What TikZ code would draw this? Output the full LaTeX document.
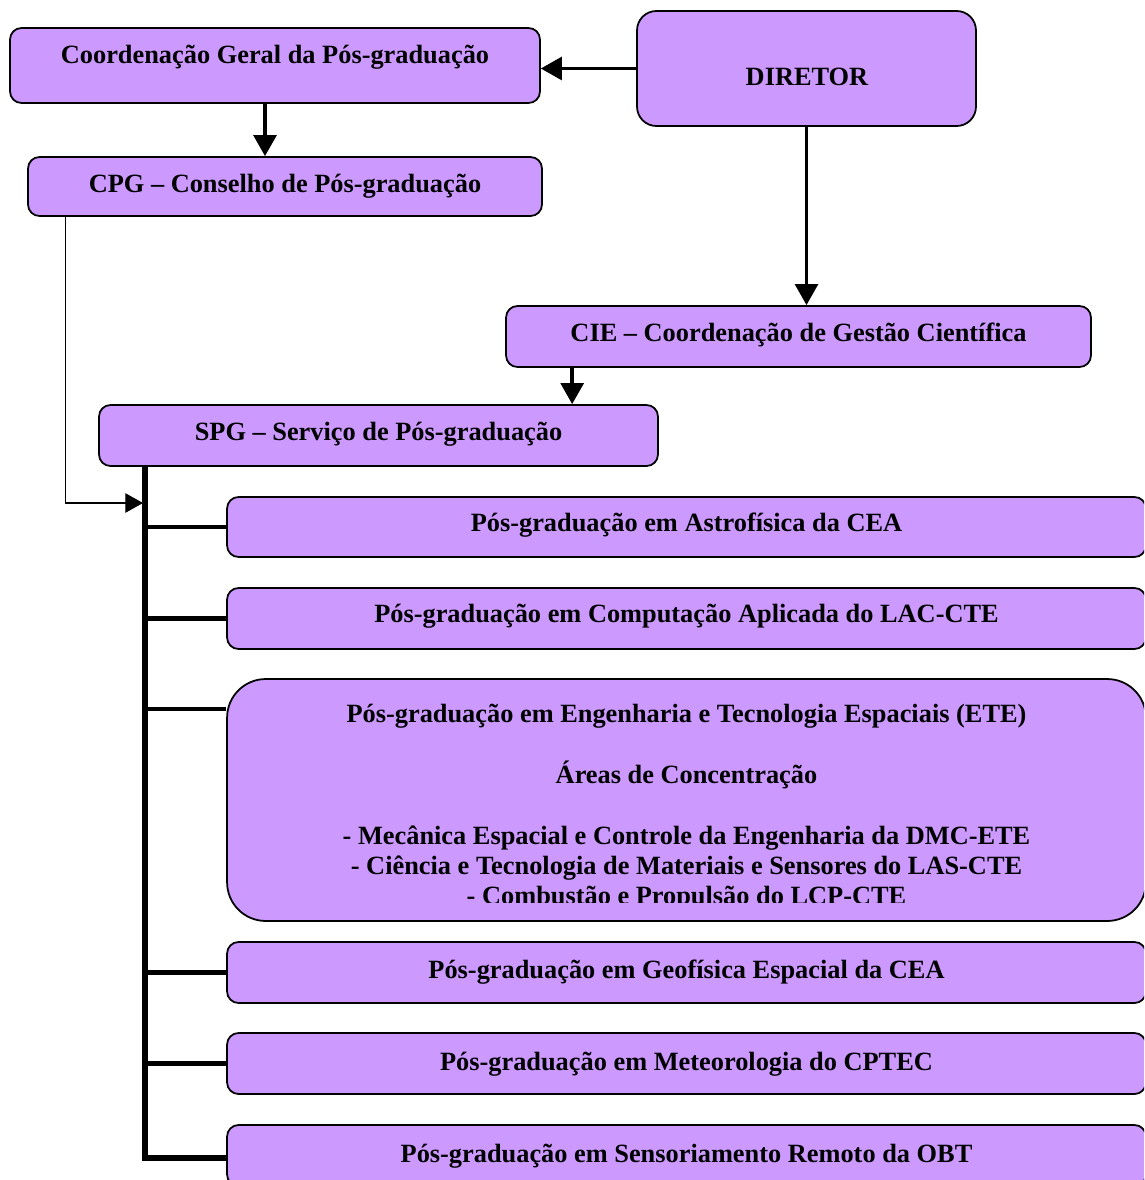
\documentclass[tikz,border=0pt]{standalone}
\usepackage{fontspec}
\setmainfont{Liberation Serif}
\usetikzlibrary{arrows.meta}
\definecolor{lilac}{HTML}{CC99FF}

\tikzset{
  box/.style={draw=black,line width=1pt,fill=lilac,rounded corners=6.5pt,inner sep=0pt},
  lbl/.style={font=\fontsize{15}{17}\selectfont\bfseries,anchor=base,inner sep=0pt},
  conn/.style={line width=2pt,-{Triangle[length=12pt,width=13pt]}},
  feed/.style={line width=0.6pt,-{Triangle[length=10pt,width=11pt]}},
  bus/.style={line width=3.4pt},
  branch/.style={line width=2.3pt}
}

\begin{document}
\begin{tikzpicture}[x=0.02cm,y=-0.02cm]
\clip (0,0) rectangle (1144,1180);
% boxes
\node[box,minimum width=10.6cm,minimum height=1.5cm] (cgp) at (275,65.5) {};
\node[box,rounded corners=11pt,minimum width=6.78cm,minimum height=2.3cm] (dir) at (806.5,68.5) {};
\node[box,minimum width=10.28cm,minimum height=1.18cm] (cpg) at (285,186.5) {};
\node[box,minimum width=11.7cm,minimum height=1.22cm] (cie) at (798.5,336.5) {};
\node[box,minimum width=11.18cm,minimum height=1.22cm] (spg) at (378.5,435.5) {};
\node[box,minimum width=18.38cm,minimum height=1.2cm] (astro) at (686.5,527) {};
\node[box,minimum width=18.38cm,minimum height=1.22cm] (comp) at (686.5,618.5) {};
\node[box,rounded corners=22pt,minimum width=18.38cm,minimum height=4.84cm] (ete) at (686.5,800) {};
\node[box,minimum width=18.38cm,minimum height=1.22cm] (geo) at (686.5,972.5) {};
\node[box,minimum width=18.38cm,minimum height=1.22cm] (meteo) at (686.5,1063.5) {};
\node[box,minimum width=18.38cm,minimum height=1.22cm] (remoto) at (686.5,1155.5) {};
% texts
\node[lbl] (cgpT) at (275,63) {Coordenação Geral da Pós-graduação};
\node[lbl] (dirT) at (807,85) {DIRETOR};
\node[lbl] (cpgT) at (285,192) {CPG – Conselho de Pós-graduação};
\node[lbl] (cieT) at (798.5,341) {CIE – Coordenação de Gestão Científica};
\node[lbl] (spgT) at (378.5,440) {SPG – Serviço de Pós-graduação};
\node[lbl] (astroT) at (686.5,531) {Pós-graduação em Astrofísica da CEA};
\node[lbl] (compT) at (686.5,622) {Pós-graduação em Computação Aplicada do LAC-CTE};
\begin{scope}
\clip (220,679) rectangle (1150,902);
\node[lbl] (eteA) at (686.5,722) {Pós-graduação em Engenharia e Tecnologia Espaciais (ETE)};
\node[lbl] (eteB) at (686.5,783) {Áreas de Concentração};
\node[lbl] (eteC) at (686.5,844) {- Mecânica Espacial e Controle da Engenharia da DMC-ETE};
\node[lbl] (eteD) at (686.5,874) {- Ciência e Tecnologia de Materiais e Sensores do LAS-CTE};
\node[lbl] (eteE) at (686.5,904) {- Combustão e Propulsão do LCP-CTE};
\end{scope}
\node[lbl] (geoT) at (686.5,978) {Pós-graduação em Geofísica Espacial da CEA};
\node[lbl] (meteoT) at (686.5,1070) {Pós-graduação em Meteorologia do CPTEC};
\node[lbl] (remotoT) at (686.5,1162) {Pós-graduação em Sensoriamento Remoto da OBT};
% connectors
\draw[conn] (dir.west) -- (dir.west -| cgp.east);
\draw[conn] ([xshift=-0.2cm]cgp.south) -- ([xshift=-0.2cm]cgp.south |- cpg.north);
\draw[conn] (dir.south) -- (dir.south |- cie.north);
\draw[conn] ([xshift=1.34cm]cie.south west) -- ([xshift=1.34cm]cie.south west |- spg.north);
\coordinate (bus) at ([xshift=0.94cm]spg.south west);
\draw[bus] (bus) |- ([yshift=-0.05cm]remoto.west);
\foreach \b in {astro,comp,geo,meteo}
  \draw[branch] (\b.west) -- (\b.west -| bus);
\draw[branch] ([yshift=-0.62cm]ete.north west) -- ([yshift=-0.62cm]ete.north west -| bus);
\coordinate (cpgIn) at (143,503);
\draw[feed] ([xshift=0.76cm]cpg.south west) |- (cpgIn);
\end{tikzpicture}
\end{document}
